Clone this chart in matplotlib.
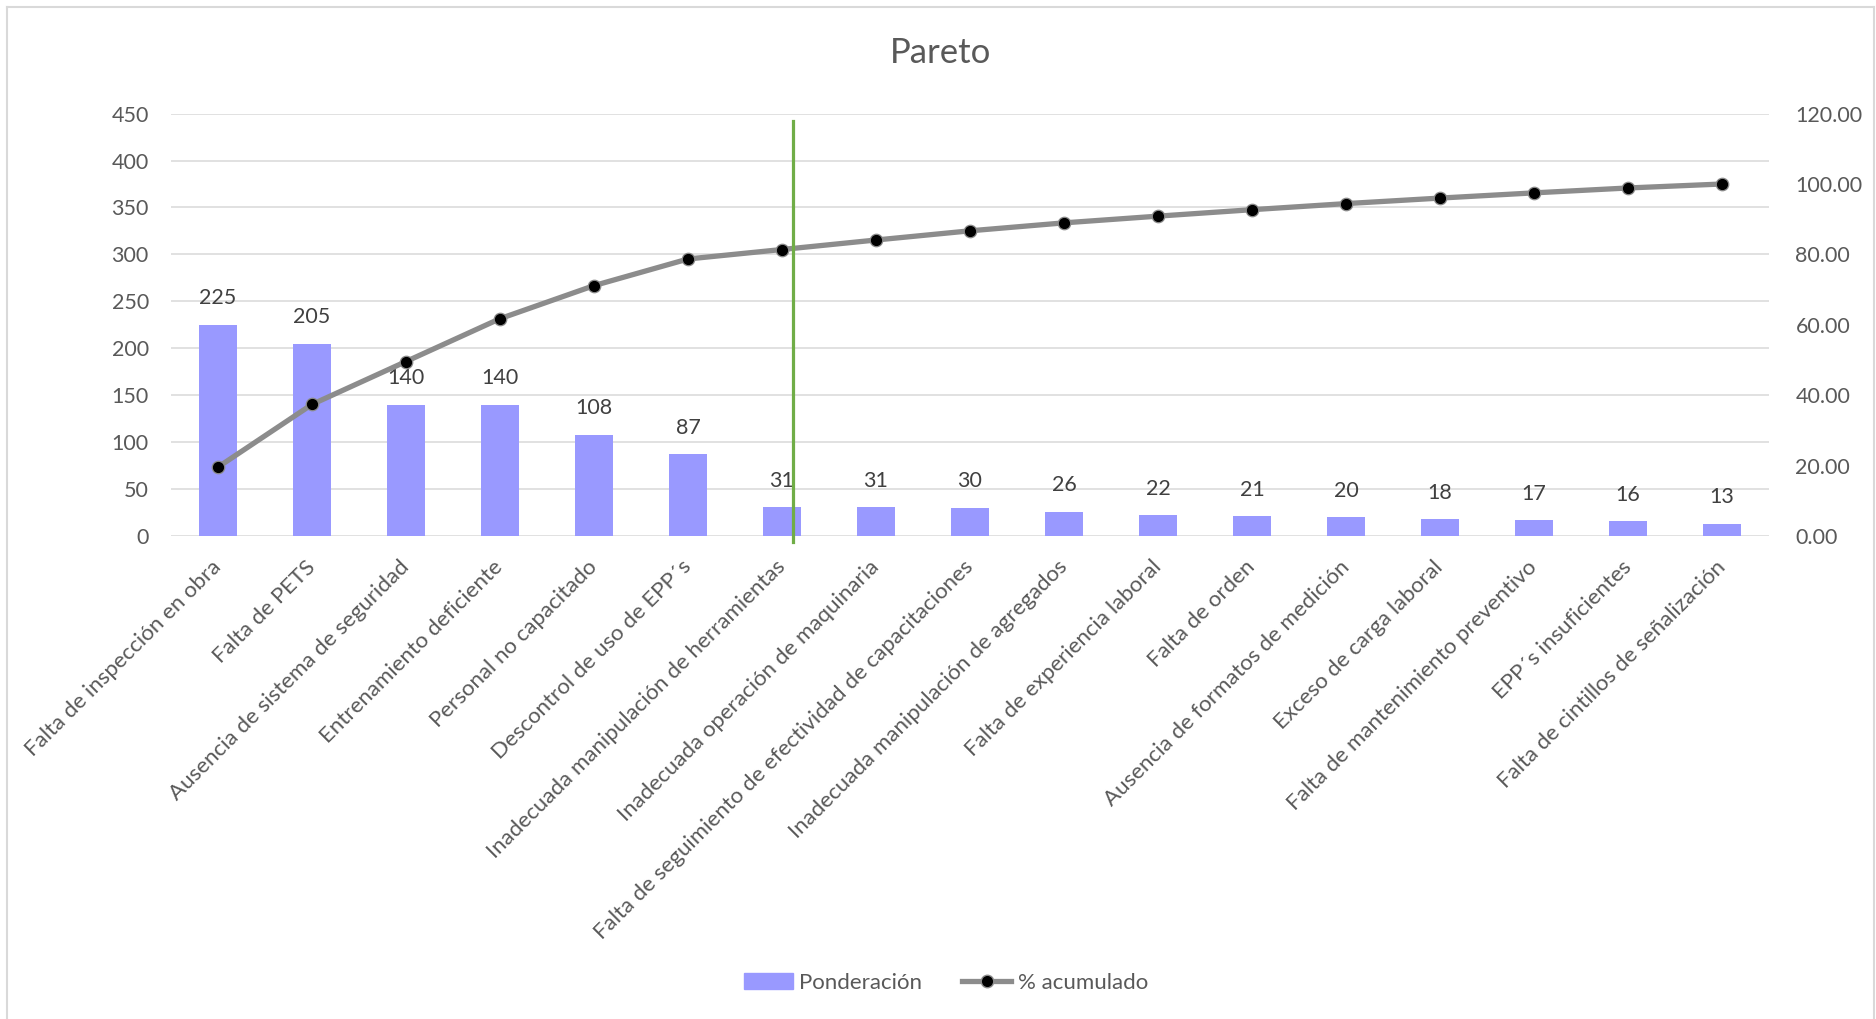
import matplotlib.pyplot as plt
from matplotlib.lines import Line2D
from matplotlib.patches import Patch

# datos del diagrama de Pareto
causas = ['Falta de inspección en obra', 'Falta de PETS', 'Ausencia de sistema de seguridad',
          'Entrenamiento deficiente', 'Personal no capacitado', 'Descontrol de uso de EPP´s',
          'Inadecuada manipulación de herramientas', 'Inadecuada operación de maquinaria',
          'Falta de seguimiento de efectividad de capacitaciones',
          'Inadecuada manipulación de agregados', 'Falta de experiencia laboral', 'Falta de orden',
          'Ausencia de formatos de medición', 'Exceso de carga laboral',
          'Falta de mantenimiento preventivo', 'EPP´s insuficientes',
          'Falta de cintillos de señalización']
ponderacion = [225, 205, 140, 140, 108, 87, 31, 31, 30, 26, 22, 21, 20, 18, 17, 16, 13]
acumulado = [19.57, 37.39, 49.57, 61.74, 71.13, 78.70, 81.39, 84.09, 86.70, 88.96,
             90.87, 92.70, 94.43, 96.00, 97.48, 98.87, 100.00]
corte_x = 6.12  # linea verde del 80 %

plt.rcParams['font.family'] = ['Lato', 'DejaVu Sans']

W, H = 1876, 1019
fig = plt.figure(figsize=(W / 100, H / 100), dpi=100)
ax = fig.add_axes([171 / W, 1 - 536 / H, (1769 - 171) / W, (536 - 113.6) / H])
ax2 = ax.twinx()

x = list(range(len(causas)))
ax.bar(x, ponderacion, width=0.395, color='#9999FF', zorder=2)
for i, v in enumerate(ponderacion):
    ax.annotate(str(v), (i, v), xytext=(0, 19), textcoords='offset points',
                ha='center', va='center', fontsize=15.5, color='#404040')

ax2.plot(x, acumulado, color='#8C8C8C', lw=3.8, marker='o', markersize=9,
         markerfacecolor='black', markeredgecolor='#8C8C8C', markeredgewidth=0.9, zorder=3)
ax2.plot([corte_x, corte_x], [118, -1.7], color='#70AD47', lw=2.3, clip_on=False, zorder=4)

ax.set_xlim(-0.5, len(causas) - 0.5)
ax.set_ylim(0, 450)
ax.set_yticks(range(0, 451, 50))
ax2.set_ylim(0, 120)
ax2.set_yticks(range(0, 121, 20))
ax2.set_yticklabels([f'{t:.2f}' for t in range(0, 121, 20)])

ax.grid(axis='y', color='#D9D9D9', lw=1.1, zorder=0)
ax.set_axisbelow(True)
for a in (ax, ax2):
    for s in a.spines.values():
        s.set_visible(False)
ax.tick_params(axis='y', length=0, pad=16, labelsize=15.5, labelcolor='#595959')
ax2.tick_params(axis='y', length=0, pad=19, labelsize=15.5, labelcolor='#595959')
ax.set_xticks(x)
ax.set_xticklabels(causas, rotation=45, ha='right', va='center', rotation_mode='anchor',
                   fontsize=16, color='#595959')
ax.tick_params(axis='x', length=0, pad=20)

fig.text(941 / W, 1 - 53 / H, 'Pareto', ha='center', va='center', fontsize=25, color='#595959')

handles = [Patch(color='#9999FF'),
           Line2D([], [], color='#8C8C8C', lw=3.8, marker='o', markersize=9,
                  markerfacecolor='black', markeredgecolor='#8C8C8C')]
fig.legend(handles, ['Ponderación', '% acumulado'], loc='center',
           bbox_to_anchor=(946 / W, 1 - 983 / H), ncol=2, frameon=False, fontsize=16,
           labelcolor='#595959', handlelength=2.2, columnspacing=1.8, handletextpad=0.3)

# borde del grafico
borde = dict(color='#D9D9D9', lw=1.5, transform=fig.transFigure)
fig.add_artist(Line2D([7 / W, 7 / W], [0, 1 - 7 / H], **borde))
fig.add_artist(Line2D([7 / W, 1874 / W], [1 - 7 / H, 1 - 7 / H], **borde))
fig.add_artist(Line2D([1874 / W, 1874 / W], [0, 1 - 7 / H], **borde))

fig.savefig('out.png', dpi=100)
